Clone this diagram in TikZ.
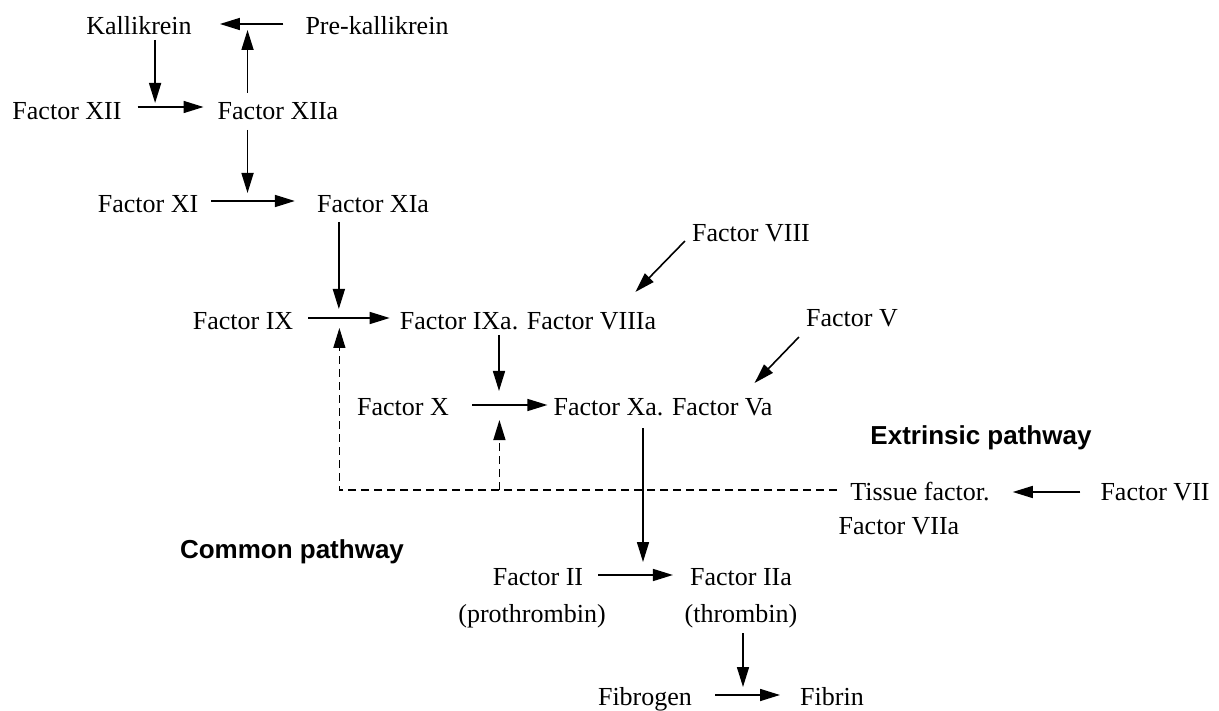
\documentclass[tikz,border=0pt]{standalone}
\usepackage{fontspec}
\setmainfont{Liberation Serif}
\newfontfamily\bsans{Liberation Sans}
\usetikzlibrary{arrows.meta,calc}
\tikzset{
  txt/.style={font=\fontsize{26}{31}\selectfont, inner sep=0pt, anchor=base},
  btxt/.style={font=\bsans\bfseries\fontsize{26}{31}\selectfont, inner sep=0pt, anchor=base},
  arr/.style={line width=1.6pt, -{Triangle[length=20pt,width=12pt]}},
  dsh/.style={line width=1.3pt, dash pattern=on 8pt off 5pt},
}
\begin{document}
\begin{tikzpicture}[x=1pt,y=-1pt]
\useasboundingbox[fill=white] (0,0) rectangle (1219,711);
% nodes
\node[txt] (kal) at (139,35) {Kallikrein};
\node[txt] (prek) at (377,35) {Pre-kallikrein};
\node[txt] (xii) at (67,120) {Factor XII};
\node[txt] (xiia) at (278,120) {Factor XIIa};
\node[txt] (xi) at (148,213) {Factor XI};
\node[txt] (xia) at (373,213) {Factor XIa};
\node[txt] (viii) at (751,242) {Factor VIII};
\node[txt] (ix) at (243,330) {Factor IX};
\node[txt] (ixa) at (528,330) {Factor IXa. Factor VIIIa};
\node[txt] (v) at (852,327) {Factor V};
\node[txt] (x) at (403,416) {Factor X};
\node[txt] (xa) at (663,416) {Factor Xa. Factor Va};
\node[btxt] (ext) at (981,445) {Extrinsic pathway};
\node[txt] (tf) at (920,500) {Tissue factor.};
\node[txt] (tf2) at (899,534) {Factor VIIa};
\node[txt] (vii) at (1155,500) {Factor VII};
\node[btxt] (com) at (292,558) {Common pathway};
\node[txt] (ii) at (538,585) {Factor II};
\node[txt] (pro) at (532,622) {(prothrombin)};
\node[txt] (iia) at (741,585) {Factor IIa};
\node[txt] (thr) at (741,622) {(thrombin)};
\node[txt] (fgn) at (645,705) {Fibrogen};
\node[txt] (fib) at (832,705) {Fibrin};
% arrows
\draw[arr] ([shift={(-22,-11)}]prek.base west) -- ([shift={(28,-11)}]kal.base east);
\draw[arr] ([shift={(30,-27)}]xiia.base west) -- ++(0,-63);
\draw[arr] ([shift={(69,5)}]kal.base west) -- ++(0,63);
\draw[arr] ([shift={(16,-13)}]xii.base east) -- ([shift={(-14,-13)}]xiia.base west);
\draw[arr] ([shift={(30,10)}]xiia.base west) -- ++(0,63);
\draw[arr] ([shift={(13,-12)}]xi.base east) -- ([shift={(-22,-12)}]xia.base west);
\draw[arr] ([shift={(22,9)}]xia.base west) -- ++(0,87);
\draw[arr] ([shift={(15,-12)}]ix.base east) -- ([shift={(-10,-12)}]ixa.base west);
\draw[arr,dsh] ([shift={(-13,-10)}]tf.base west) -| ([shift={(46,-2)}]ix.base east);
\draw[arr,dsh] ([shift={(-54,74)}]xa.base west) -- ++(0,-70);
\draw[arr] ([shift={(-7,-1)}]viii.base west) -- ([shift={(-21,-38)}]ixa.base east);
\draw[arr] ([shift={(-29,5)}]ixa.base) -- ++(0,56);
\draw[arr] ([shift={(23,-11)}]x.base east) -- ([shift={(-6,-11)}]xa.base west);
\draw[arr] ([shift={(-7,10)}]v.base west) -- ([shift={(-18,-33)}]xa.base east);
\draw[arr] ([shift={(-20,12)}]xa.base) -- ++(0,134);
\draw[arr] ([shift={(-20,-8)}]vii.base west) -- ([shift={(23,-8)}]tf.base east);
\draw[arr] ([shift={(15,-10)}]ii.base east) -- ([shift={(-17,-10)}]iia.base west);
\draw[arr] ([shift={(2,11)}]thr.base) -- ++(0,54);
\draw[arr] ([shift={(23,-10)}]fgn.base east) -- ([shift={(-20,-10)}]fib.base west);
\end{tikzpicture}
\end{document}
